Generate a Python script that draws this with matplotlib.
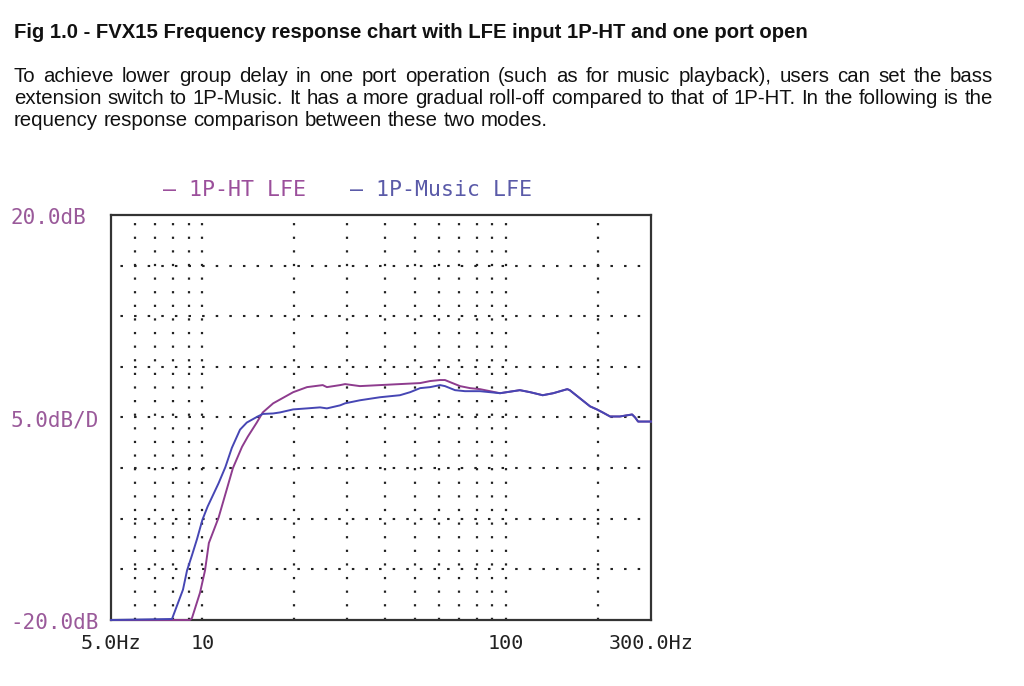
import matplotlib
matplotlib.use('Agg')
import matplotlib.pyplot as plt
from matplotlib import transforms

# chart data
ht_freq = [5, 9.1, 9.24, 9.82, 10.2, 10.5, 11.3, 12.0, 12.6, 13.5, 14.1, 15.1, 15.8,
           17.1, 19.9, 22.1, 24.9, 25.7, 28.4, 29.5, 33.0, 38.4, 44.7, 52.1, 56.2,
           60.6, 62.9, 65.3, 70.5, 76.1, 82.0]
ht_db = [-20, -20, -19.8, -17.3, -15.1, -12.4, -9.9, -7.2, -5.0, -2.9, -1.9, -0.5, 0.5,
         1.4, 2.5, 3.0, 3.2, 3.0, 3.2, 3.3, 3.1, 3.2, 3.3, 3.4, 3.6,
         3.7, 3.7, 3.5, 3.1, 2.9, 2.8]

music_freq = [5, 7.94, 8.63, 8.9, 9.24, 9.6, 10.0, 10.4, 11.3, 11.9, 12.5, 13.3, 14.0,
              15.1, 15.8, 17.1, 18.0, 19.9, 22.1, 24.4, 25.7, 28.4, 29.5, 33.0, 38.4,
              44.7, 48.3, 52.1, 56.2, 60.6, 62.9, 67.9, 73.2, 82.0]
music_db = [-20, -19.9, -17.0, -15.1, -13.6, -12.0, -10.1, -8.8, -6.5, -4.9, -3.0, -1.2, -0.5,
            0.05, 0.35, 0.4, 0.5, 0.8, 0.9, 1.0, 0.9, 1.2, 1.4, 1.7, 2.0,
            2.2, 2.5, 2.9, 3.0, 3.2, 3.1, 2.7, 2.6, 2.6]

# both modes share the same response above ~95 Hz
tail_freq = [95.5, 111, 120, 132, 143, 159, 162, 175, 189, 199, 208, 220, 237, 260, 266, 272, 300]
tail_db = [2.4, 2.7, 2.5, 2.2, 2.4, 2.8, 2.7, 1.9, 1.1, 0.8, 0.5, 0.1, 0.1, 0.3, 0.0, -0.4, -0.4]

grid_freq = [6, 7, 8, 9, 10, 20, 30, 40, 50, 60, 70, 80, 90, 100, 200]
grid_db = [-15, -10, -5, 0, 5, 10, 15]
xtick_vals = [5, 10, 100, 300]
xtick_labels = ['5.0Hz', '10', '100', '300.0Hz']
ylabel_vals = [20, 0, -20]
ylabel_texts = ['20.0dB', '5.0dB/D', '-20.0dB']

title = 'Fig 1.0 - FVX15 Frequency response chart with LFE input 1P-HT and one port open'
para = ['To achieve lower group delay in one port operation (such as for music playback), users can set the bass',
        'extension switch to 1P-Music. It has a more gradual roll-off compared to that of 1P-HT. In the following is the',
        'requency response comparison between these two modes.']

HT_COL = '#8e3c8e'
MU_COL = '#4646b4'
mono = 'DejaVu Sans Mono'
plt.rcParams['lines.scale_dashes'] = False

W, H = 1024, 686
fig = plt.figure(figsize=(W / 100, H / 100), dpi=100)
r = fig.canvas.get_renderer()

def px(x, y):
    return x / W, 1 - y / H

def fit_size(text, width, **kw):
    t = fig.text(0, 0, text, fontsize=12, **kw)
    w = t.get_window_extent(r).width
    t.remove()
    return 12 * width / w

# heading and paragraph
tsize = fit_size(title, 792, family='Liberation Sans', weight='bold')
fig.text(*px(14, 33), title, fontsize=tsize, family='Liberation Sans', weight='bold',
         va='center', color='#111111')

psize = fit_size(para[2], 534, family='Liberation Sans')
ys = [76, 98, 120]
for i, line in enumerate(para):
    words = line.split(' ')
    texts = [fig.text(0, 0, w, fontsize=psize, family='Liberation Sans', va='center',
                      color='#111111') for w in words]
    widths = [t.get_window_extent(r).width for t in texts]
    if i < 2:
        gap = (993 - 14 - sum(widths)) / (len(words) - 1)
    else:
        gap = fig.text(0, 0, 'a b', fontsize=psize, family='Liberation Sans').get_window_extent(r).width \
            - fig.text(0, 0, 'ab', fontsize=psize, family='Liberation Sans').get_window_extent(r).width
        for t in fig.texts[-2:]:
            t.remove()
    x = 14
    for t, w in zip(texts, widths):
        t.set_position(px(x, ys[i]))
        x += w + gap

# chart
ax = fig.add_axes([111 / W, 1 - 620 / H, 540 / W, 405 / H])
ax.set_xscale('log')
ax.set_xlim(5, 300)
ax.set_ylim(-20, 20)
for s in ax.spines.values():
    s.set_linewidth(1.6)
    s.set_color('#333333')

for f in grid_freq:
    ax.axvline(f, color='#222222', lw=1.6, ls=(0, (1.6, 8.2)), zorder=1)
for d in grid_db:
    ax.axhline(d, color='#222222', lw=1.5, ls=(3, (1.8, 8.0)), zorder=1)

ax.plot(ht_freq + tail_freq, ht_db + tail_db, color=HT_COL, lw=1.4, clip_on=False, zorder=3)
ax.plot(music_freq + tail_freq, music_db + tail_db, color=MU_COL, lw=1.4, clip_on=False, zorder=4)

ax.set_xticks(xtick_vals)
ax.set_xticklabels(xtick_labels, family=mono, fontsize=14.5, color='#222222')
ax.xaxis.set_minor_locator(matplotlib.ticker.NullLocator())
ax.tick_params(axis='x', length=0, pad=10)
ax.set_yticks([])

trans = transforms.offset_copy(transforms.blended_transform_factory(fig.transFigure, ax.transData),
                               fig=fig, y=-3, units='dots')
for v, lab in zip(ylabel_vals, ylabel_texts):
    fig.text(10 / W, v, lab, transform=trans, family=mono, fontsize=15,
             color='#9a5a9a', va='center', ha='left')

fig.text(*px(163, 190), '– 1P-HT LFE', family=mono, fontsize=15.5, color='#9b4f9b', va='center')
fig.text(*px(350, 190), '– 1P-Music LFE', family=mono, fontsize=15.5, color='#5a5aa8', va='center')

fig.savefig('out.png', dpi=100)
